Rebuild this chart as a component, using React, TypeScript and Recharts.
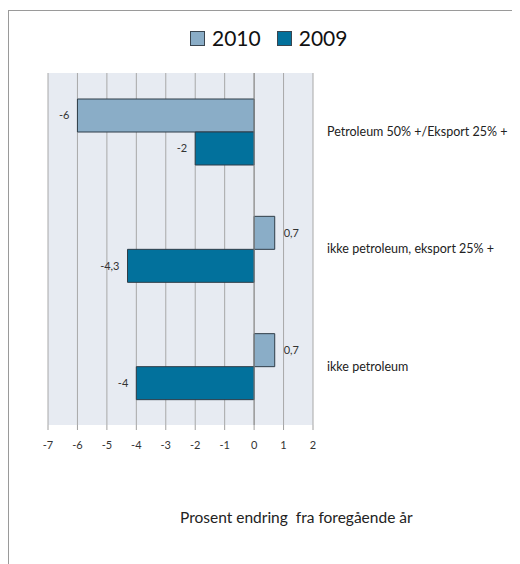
import React from 'react';
import {
  BarChart,
  Bar,
  XAxis,
  YAxis,
  CartesianGrid,
  LabelList,
  ReferenceLine,
} from 'recharts';

const categories = [
  'Petroleum 50% +/Eksport 25% +',
  'ikke petroleum, eksport 25% +',
  'ikke petroleum',
];
const values2010 = [-6, 0.7, 0.7];
const values2009 = [-2, -4.3, -4];
const xTicks = [-7, -6, -5, -4, -3, -2, -1, 0, 1, 2];

const COLOR_2010 = '#8aadc7';
const COLOR_2009 = '#02719c';
const FONT = 'Lato, "Open Sans", sans-serif';

const data = categories.map((name, i) => ({
  name,
  y2010: values2010[i],
  y2009: values2009[i],
}));

const fmt = (v: number) => String(v).replace('.', ',');

function ValueLabel(props: any) {
  const { x, y, width, height, value } = props;
  const end = Number(x) + Number(width);
  const neg = value < 0;
  return (
    <text
      x={neg ? end - 8 : end + 9}
      y={Number(y) + Number(height) / 2}
      dy="0.35em"
      textAnchor={neg ? 'end' : 'start'}
      fontSize={11}
      fontFamily={FONT}
      fill="#333"
    >
      {fmt(value)}
    </text>
  );
}

function CategoryTick(props: any) {
  const { x, y, payload } = props;
  return (
    <text
      x={x}
      y={y}
      dy="0.35em"
      textAnchor="start"
      fontSize={12.5}
      fontFamily={FONT}
      fill="#222"
    >
      {payload.value}
    </text>
  );
}

function LegendBox() {
  const items = [
    { label: '2010', color: COLOR_2010 },
    { label: '2009', color: COLOR_2009 },
  ];
  return (
    <div
      style={{
        position: 'absolute',
        left: 181,
        top: 15,
        display: 'flex',
        alignItems: 'center',
        fontFamily: FONT,
      }}
    >
      {items.map((it) => (
        <div key={it.label} style={{ display: 'flex', alignItems: 'center', marginRight: 16 }}>
          <span
            style={{
              width: 13,
              height: 13,
              background: it.color,
              border: '1px solid #3a4650',
              marginRight: 7,
            }}
          />
          <span style={{ fontSize: 21, color: '#111', lineHeight: '24px' }}>{it.label}</span>
        </div>
      ))}
    </div>
  );
}

export default function App() {
  return (
    <div
      style={{
        position: 'relative',
        width: 503,
        height: 554,
        marginTop: 2,
        borderLeft: '1px solid #9a9a9a',
        borderTop: '1px solid #9a9a9a',
        fontFamily: FONT,
      }}
    >
      <LegendBox />
      <BarChart
        width={503}
        height={450}
        data={data}
        layout="vertical"
        margin={{ top: 62, right: 0, bottom: 0, left: 39 }}
        barGap={0}
      >
        <CartesianGrid horizontal={false} stroke="#a8a8a8" fill="#e7ebf2" />
        <XAxis
          type="number"
          domain={[-7, 2]}
          ticks={xTicks}
          interval={0}
          height={36}
          axisLine={false}
          tickLine={{ stroke: '#a0a0a0' }}
          tickSize={5}
          tickMargin={11}
          tick={{ fontSize: 11, fill: '#333', fontFamily: FONT }}
        />
        <YAxis
          type="category"
          dataKey="name"
          orientation="right"
          width={199}
          axisLine={false}
          tickLine={false}
          tickSize={0}
          tickMargin={14}
          tick={CategoryTick}
        />
        <ReferenceLine x={0} stroke="#8c8c8c" />
        <Bar
          dataKey="y2010"
          name="2010"
          fill={COLOR_2010}
          stroke="#2f3d48"
          strokeWidth={1}
          barSize={33}
          isAnimationActive={false}
        >
          <LabelList dataKey="y2010" content={ValueLabel} />
        </Bar>
        <Bar
          dataKey="y2009"
          name="2009"
          fill={COLOR_2009}
          stroke="#2f3d48"
          strokeWidth={1}
          barSize={33}
          isAnimationActive={false}
        >
          <LabelList dataKey="y2009" content={ValueLabel} />
        </Bar>
      </BarChart>
      <div
        style={{
          position: 'absolute',
          left: 171,
          top: 497,
          fontSize: 15.5,
          color: '#222',
          whiteSpace: 'pre',
        }}
      >
        {'Prosent endring  fra foregående år'}
      </div>
    </div>
  );
}
